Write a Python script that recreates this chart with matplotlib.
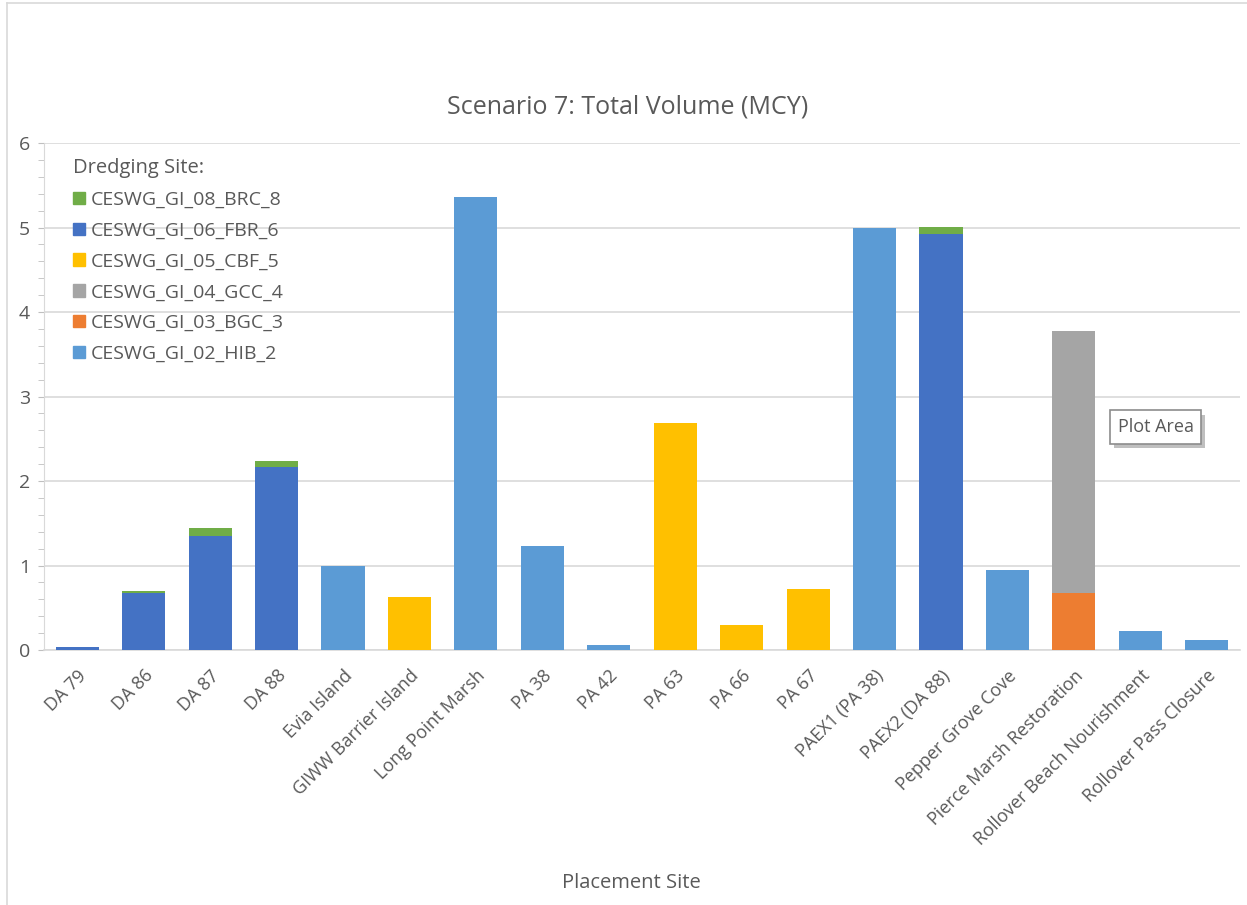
import numpy as np
import matplotlib.pyplot as plt
from matplotlib.patches import Patch
import matplotlib.patheffects as pe

plt.rcParams['font.family'] = ['Open Sans', 'DejaVu Sans']

sites = ['DA 79', 'DA 86', 'DA 87', 'DA 88', 'Evia Island', 'GIWW Barrier Island',
         'Long Point Marsh', 'PA 38', 'PA 42', 'PA 63', 'PA 66', 'PA 67',
         'PAEX1 (PA 38)', 'PAEX2 (DA 88)', 'Pepper Grove Cove',
         'Pierce Marsh Restoration', 'Rollover Beach Nourishment', 'Rollover Pass Closure']

# volumes (MCY) per dredging site, stacked bottom -> top
hib_2 = [0, 0, 0, 0, 0.99, 0, 5.36, 1.23, 0.06, 0, 0, 0, 5.00, 0, 0.95, 0, 0.23, 0.12]
bgc_3 = [0, 0, 0, 0, 0, 0, 0, 0, 0, 0, 0, 0, 0, 0, 0, 0.68, 0, 0]
gcc_4 = [0, 0, 0, 0, 0, 0, 0, 0, 0, 0, 0, 0, 0, 0, 0, 3.10, 0, 0]
cbf_5 = [0, 0, 0, 0, 0, 0.63, 0, 0, 0, 2.69, 0.29, 0.72, 0, 0, 0, 0, 0, 0]
fbr_6 = [0.03, 0.67, 1.35, 2.17, 0, 0, 0, 0, 0, 0, 0, 0, 0, 4.92, 0, 0, 0, 0]
brc_8 = [0, 0.03, 0.09, 0.07, 0, 0, 0, 0, 0, 0, 0, 0, 0, 0.08, 0, 0, 0, 0]

series = [('CESWG_GI_02_HIB_2', hib_2, '#5B9BD5'),
          ('CESWG_GI_03_BGC_3', bgc_3, '#ED7D31'),
          ('CESWG_GI_04_GCC_4', gcc_4, '#A5A5A5'),
          ('CESWG_GI_05_CBF_5', cbf_5, '#FFC000'),
          ('CESWG_GI_06_FBR_6', fbr_6, '#4472C4'),
          ('CESWG_GI_08_BRC_8', brc_8, '#70AD47')]

txtcol = '#595959'
gridcol = '#D9D9D9'

fig = plt.figure(figsize=(12.47, 9.05), dpi=100)
ax = fig.add_axes([44 / 1247, 1 - 650 / 905, (1240 - 44) / 1247, (650 - 143) / 905])

x = np.arange(len(sites))
bottom = np.zeros(len(sites))
for name, vals, col in series:
    vals = np.array(vals)
    ax.bar(x, vals, 0.65, bottom=bottom, color=col, label=name, zorder=3)
    bottom += vals

ax.set_xlim(-0.5, len(sites) - 0.5)
ax.set_ylim(0, 6)
ax.set_yticks(range(0, 7))
ax.set_yticks(np.arange(0, 6.01, 0.2), minor=True)
ax.grid(axis='y', which='major', color=gridcol, linewidth=1.2, zorder=0)

for s in ['top', 'right']:
    ax.spines[s].set_visible(False)
ax.spines['left'].set_color(gridcol)
ax.spines['bottom'].set_color(gridcol)
ax.spines['bottom'].set_linewidth(1.2)

ax.tick_params(axis='y', which='both', color='#BFBFBF', length=4, labelsize=14,
               labelcolor=txtcol, pad=6)
ax.tick_params(axis='x', length=0, labelsize=13, labelcolor=txtcol, pad=12)
ax.set_xticks(x)
ax.set_xticklabels(sites, rotation=45, ha='right', rotation_mode='anchor')

fig.text(628 / 1247, 1 - 107 / 905, 'Scenario 7: Total Volume (MCY)', fontsize=18,
         color=txtcol, ha='center', va='center')
fig.text(631 / 1247, 1 - 883 / 905, 'Placement Site', fontsize=14.5, color=txtcol,
         ha='center', va='center')

handles = [Patch(color=c) for _, _, c in series][::-1]
labels = [n for n, _, _ in series][::-1]
leg = ax.legend(handles, labels, title='Dredging Site:', loc='upper left',
                bbox_to_anchor=(0.01, 1.005), frameon=False, fontsize=14,
                title_fontsize=14.5, alignment='left', handlelength=0.6,
                handleheight=0.6, handletextpad=0.3, labelspacing=0.66,
                labelcolor=txtcol)
leg.get_title().set_color(txtcol)

# "Plot Area" tooltip box with drop shadow
t = ax.text(16.23, 2.64, 'Plot Area', fontsize=13, color=txtcol, ha='center', va='center',
            zorder=5, bbox=dict(boxstyle='square,pad=0.42', fc='white', ec='#8C8C8C', lw=1.2))
t.get_bbox_patch().set_path_effects([
    pe.SimplePatchShadow(offset=(3, -3), shadow_rgbFace='#BFBFBF', alpha=1),
    pe.Normal()])

# chart frame edges
fig.add_artist(plt.Line2D([7 / 1247, 7 / 1247], [0, 1 - 3 / 905], color=gridcol, lw=1.2))
fig.add_artist(plt.Line2D([7 / 1247, 1], [1 - 3 / 905, 1 - 3 / 905], color=gridcol, lw=1.2))

fig.savefig('out.png', dpi=100)
